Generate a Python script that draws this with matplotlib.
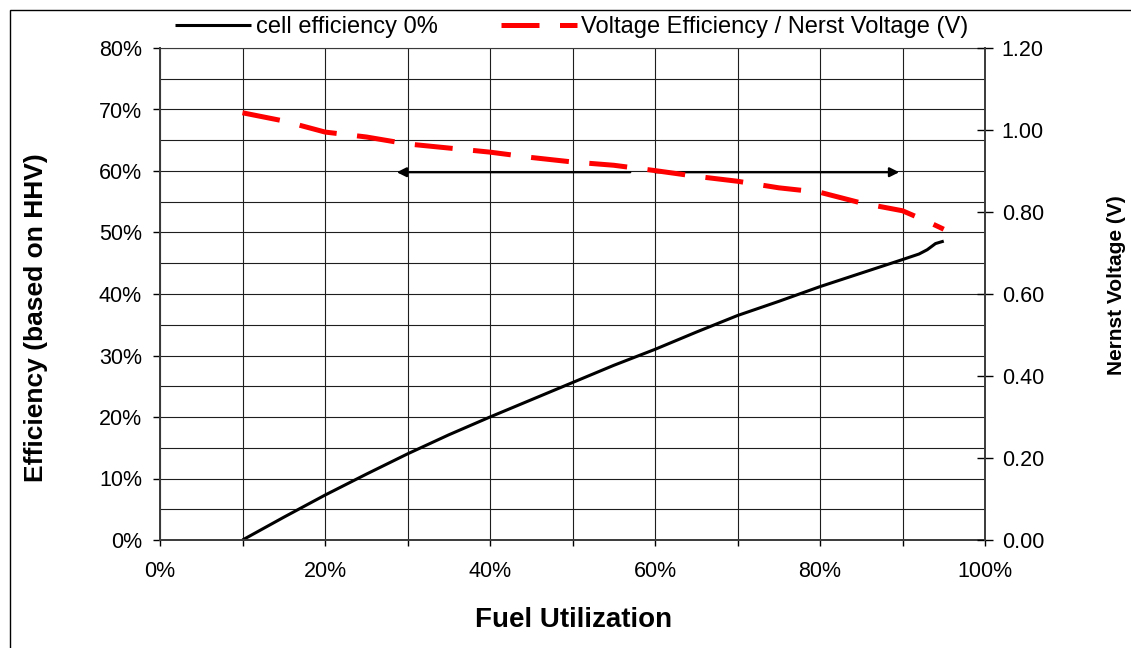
import matplotlib
matplotlib.use("Agg")
import matplotlib.pyplot as plt
from matplotlib.ticker import MultipleLocator, PercentFormatter, FormatStrFormatter
from matplotlib.patches import Rectangle

plt.rcParams['font.family'] = ['Liberation Sans', 'DejaVu Sans']

# fuel utilization (fraction) and cell efficiency (fraction, HHV basis)
fuel_util = [0.10, 0.15, 0.20, 0.25, 0.30, 0.35, 0.40, 0.45, 0.50, 0.55, 0.60,
             0.65, 0.70, 0.75, 0.80, 0.85, 0.90, 0.92, 0.93, 0.94, 0.95]
cell_eff = [0.000, 0.037, 0.073, 0.107, 0.140, 0.171, 0.200, 0.228, 0.256, 0.284, 0.310,
            0.338, 0.365, 0.388, 0.412, 0.434, 0.456, 0.465, 0.472, 0.482, 0.486]

# Nernst voltage (V), right axis
nernst_util = [0.10, 0.15, 0.20, 0.25, 0.30, 0.35, 0.40, 0.45, 0.50, 0.55, 0.60,
               0.65, 0.70, 0.75, 0.80, 0.85, 0.90, 0.93, 0.95]
nernst_v = [1.042, 1.022, 0.995, 0.983, 0.966, 0.956, 0.946, 0.933, 0.922, 0.914, 0.901,
            0.887, 0.875, 0.859, 0.848, 0.822, 0.803, 0.777, 0.758]

# annotation arrows at 60 % efficiency: (tail, tip)
arrow_y = 0.598
arrow_left = (0.57, 0.287)
arrow_right = (0.60, 0.896)

W, H = 1131, 648
fig = plt.figure(figsize=(W / 100, H / 100), dpi=100)
fig.subplots_adjust(left=160 / W, right=985 / W, top=1 - 48 / H, bottom=1 - 540 / H)
ax = fig.add_subplot(111)
ax2 = ax.twinx()

grid_kw = dict(color='#1e1e1e', linewidth=0.8)
ax.set_xlim(0, 1)
ax.set_ylim(0, 0.8)
ax.xaxis.set_major_locator(MultipleLocator(0.2))
ax.xaxis.set_minor_locator(MultipleLocator(0.1))
ax.yaxis.set_major_locator(MultipleLocator(0.1))
ax.yaxis.set_minor_locator(MultipleLocator(0.05))
ax.xaxis.set_major_formatter(PercentFormatter(xmax=1, decimals=0))
ax.yaxis.set_major_formatter(PercentFormatter(xmax=1, decimals=0))
ax.grid(True, which='both', **grid_kw)
ax.set_axisbelow(True)

ax.tick_params(axis='y', which='major', direction='out', length=5, width=1,
               pad=8, labelsize=15.5)
ax.tick_params(axis='y', which='minor', length=0)
ax.tick_params(axis='x', which='both', direction='out', length=4, width=1,
               pad=11, labelsize=15.5)

ax2.set_ylim(0, 1.2)
ax2.yaxis.set_major_locator(MultipleLocator(0.2))
ax2.yaxis.set_major_formatter(FormatStrFormatter('%.2f'))
ax2.tick_params(axis='y', direction='inout', length=11, width=1, pad=6.5, labelsize=15.5)

for a in (ax, ax2):
    for s in a.spines.values():
        s.set_linewidth(1.4)
        s.set_color('#3a3a3a')
ax.spines['top'].set_linewidth(0.8)
for s in ('left', 'bottom', 'top'):
    ax2.spines[s].set_visible(False)
ax.spines['right'].set_visible(False)

line_eff, = ax.plot(fuel_util, cell_eff, color='black', linewidth=2.2,
                    solid_capstyle='butt', label='cell efficiency 0%')
line_v, = ax2.plot(nernst_util, nernst_v, color='#ff0000', linewidth=3.6,
                   dashes=(7.6, 4.1), label='Voltage Efficiency / Nerst Voltage (V)')

arrow_kw = dict(arrowstyle='-|>', color='black', lw=1.6, mutation_scale=14,
                shrinkA=0, shrinkB=0)
ax.annotate('', xy=(arrow_left[1], arrow_y), xytext=(arrow_left[0], arrow_y),
            arrowprops=arrow_kw)
ax.annotate('', xy=(arrow_right[1], arrow_y), xytext=(arrow_right[0], arrow_y),
            arrowprops=arrow_kw)

fig.text(574 / W, 1 - 620 / H, 'Fuel Utilization', ha='center', va='center',
         fontsize=20, fontweight='bold')
fig.text(36 / W, 1 - 318 / H, 'Efficiency (based on HHV)', ha='center', va='center',
         rotation=90, fontsize=19, fontweight='bold')
fig.text(1117 / W, 1 - 285 / H, 'Nernst Voltage (V)', ha='center', va='center',
         rotation=90, fontsize=15, fontweight='bold')

fig.legend(handles=[line_eff, line_v], loc='center', bbox_to_anchor=(572 / W, 1 - 27 / H),
           ncol=2, frameon=False, fontsize=17, handlelength=3.2, handletextpad=0.2,
           columnspacing=2.7, borderaxespad=0, borderpad=0)

# outer chart border (cut by the image edges on right and bottom)
fig.patches.append(Rectangle((10 / W, -0.5), 2, 1.5 - 10 / H, transform=fig.transFigure,
                             fill=False, edgecolor='black', linewidth=1.0))

fig.savefig('out.png', dpi=100)
